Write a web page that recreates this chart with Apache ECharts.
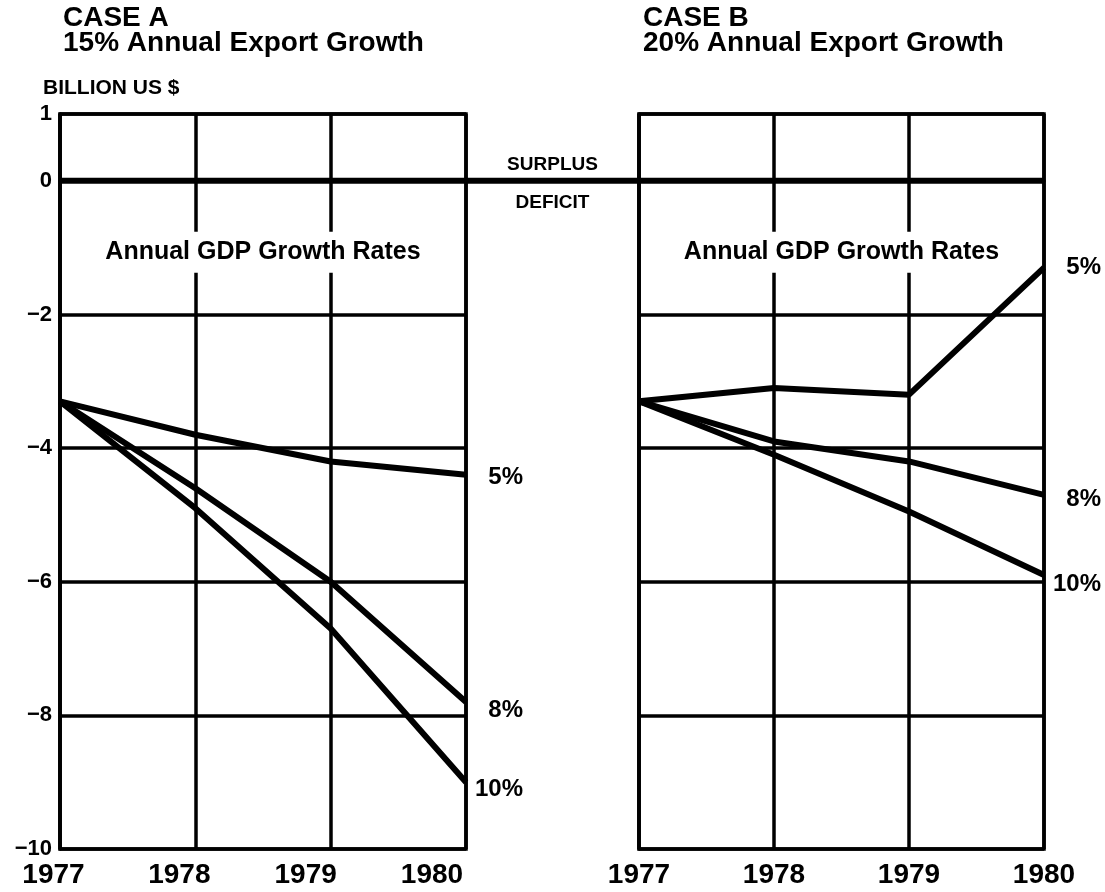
<!DOCTYPE html>
<html>
<head>
<meta charset="utf-8">
<script src="https://cdn.jsdelivr.net/npm/echarts@6/dist/echarts.min.js"></script>
<style>
  html, body { margin: 0; padding: 0; background: #fff; }
  #main { width: 1105px; height: 892px; }
</style>
</head>
<body>
<div id="main"></div>
<script>
// data (billion US $)
var years = [1977, 1978, 1979, 1980];
var caseA5 = [-3.3, -3.8, -4.2, -4.4];
var caseA8 = [-3.3, -4.6, -6.0, -7.8];
var caseA10 = [-3.3, -4.9, -6.7, -9.0];
var caseB5 = [-3.3, -3.1, -3.2, -1.3];
var caseB8 = [-3.3, -3.9, -4.2, -4.7];
var caseB10 = [-3.3, -4.1, -4.95, -5.9];
var rateLabels = ['5%', '8%', '10%'];

var FONT = '"Liberation Sans", Arial, sans-serif';
var myChart = echarts.init(document.getElementById('main'));

function pairs(vals) {
    return years.map(function (y, i) { return [y, vals[i]]; });
}

function lineSeries(name, vals, gridIdx, dy) {
    return {
        name: name,
        type: 'line',
        xAxisIndex: gridIdx,
        yAxisIndex: gridIdx,
        data: pairs(vals),
        symbol: 'none',
        lineStyle: { color: '#000', width: 6 },
        endLabel: {
            show: true,
            formatter: name,
            distance: 57,
            align: 'right',
            offset: [0, dy],
            color: '#000',
            fontFamily: FONT,
            fontWeight: 'bold',
            fontSize: 24
        },
        z: 5
    };
}

function xAxisFor(gridIdx, shifts) {
    var rich = {};
    shifts.forEach(function (s, i) {
        rich['y' + i] = {
            color: '#000', fontFamily: FONT, fontWeight: 'bold', fontSize: 28,
            padding: [0, s, 0, 0]
        };
    });
    return {
        gridIndex: gridIdx,
        type: 'value',
        min: 1977, max: 1980, interval: 1,
        axisLine: { show: true, lineStyle: { color: '#000', width: 3.5 } },
        axisTick: { show: false },
        splitLine: { show: true, lineStyle: { color: '#000', width: 3.5 } },
        axisLabel: {
            margin: 12,
            formatter: function (v) { return '{y' + (v - 1977) + '|' + v + '}'; },
            rich: rich
        }
    };
}

function yAxisFor(gridIdx, showLabels) {
    return {
        gridIndex: gridIdx,
        type: 'value',
        min: -10, max: 1, interval: 2,
        axisLine: { show: true, onZero: false, lineStyle: { color: '#000', width: 3.5 } },
        axisTick: { show: false },
        splitLine: { show: true, lineStyle: { color: '#000', width: 3.5 } },
        axisLabel: {
            show: showLabels,
            margin: 8,
            color: '#000',
            fontFamily: FONT,
            fontWeight: 'bold',
            fontSize: 22,
            formatter: function (v) { return v < 0 ? '\u2212' + Math.abs(v) : String(v); }
        }
    };
}

var option = {
    animation: false,
    backgroundColor: '#fff',
    grid: [
        { left: 60, top: 114, width: 406, height: 735, show: true, borderColor: '#000', borderWidth: 3.5 },
        { left: 639, top: 114, width: 405, height: 735, show: true, borderColor: '#000', borderWidth: 3.5 }
    ],
    xAxis: [xAxisFor(0, [13, 32, 50, 68]), xAxisFor(1, [0, 0, 0, 0])],
    yAxis: [yAxisFor(0, true), yAxisFor(1, false)],
    series: [
        lineSeries(rateLabels[0], caseA5, 0, 3),
        lineSeries(rateLabels[1], caseA8, 0, 8),
        lineSeries(rateLabels[2], caseA10, 0, 7),
        lineSeries(rateLabels[0], caseB5, 1, 0),
        lineSeries(rateLabels[1], caseB8, 1, 5),
        lineSeries(rateLabels[2], caseB10, 1, 9)
    ]
};
myChart.setOption(option);

// headings, zero line across both panels, surplus/deficit notes
function txt(x, y, text, font, align, extra) {
    var s = { x: x, y: y, text: text, fill: '#000', font: font, textAlign: align || 'left', textVerticalAlign: 'middle' };
    if (extra) { for (var k in extra) s[k] = extra[k]; }
    return { type: 'text', z: 100, style: s };
}

var zA0 = myChart.convertToPixel({ gridIndex: 0 }, [1977, 0]);
var zA1 = myChart.convertToPixel({ gridIndex: 0 }, [1980, 0]);
var zB0 = myChart.convertToPixel({ gridIndex: 1 }, [1977, 0]);
var zB1 = myChart.convertToPixel({ gridIndex: 1 }, [1980, 0]);
var gA = myChart.convertToPixel({ gridIndex: 0 }, [1978.5, -1.07]);
var gB = myChart.convertToPixel({ gridIndex: 1 }, [1978.5, -1.07]);
var midX = (zA1[0] + zB0[0]) / 2;

myChart.setOption({
    graphic: [
        {
            type: 'polyline', z: 50,
            shape: { points: [zA0, zA1, zB0, zB1] },
            style: { stroke: '#000', lineWidth: 6, fill: null }
        },
        txt(63, 18, 'CASE A', 'bold 28px ' + FONT),
        txt(63, 43, '15% Annual Export Growth', 'bold 28px ' + FONT),
        txt(643, 18, 'CASE B', 'bold 28px ' + FONT),
        txt(643, 43, '20% Annual Export Growth', 'bold 28px ' + FONT),
        txt(43, 88, 'BILLION US $', 'bold 21px ' + FONT),
        txt(midX, 165, 'SURPLUS', 'bold 19px ' + FONT, 'center'),
        txt(midX, 203, 'DEFICIT', 'bold 19px ' + FONT, 'center'),
        txt(gA[0], gA[1], 'Annual GDP Growth Rates', 'bold 25px ' + FONT, 'center',
            { backgroundColor: '#fff', padding: [8, 4] }),
        txt(gB[0], gB[1], 'Annual GDP Growth Rates', 'bold 25px ' + FONT, 'center',
            { backgroundColor: '#fff', padding: [8, 4] })
    ]
});
</script>
</body>
</html>
